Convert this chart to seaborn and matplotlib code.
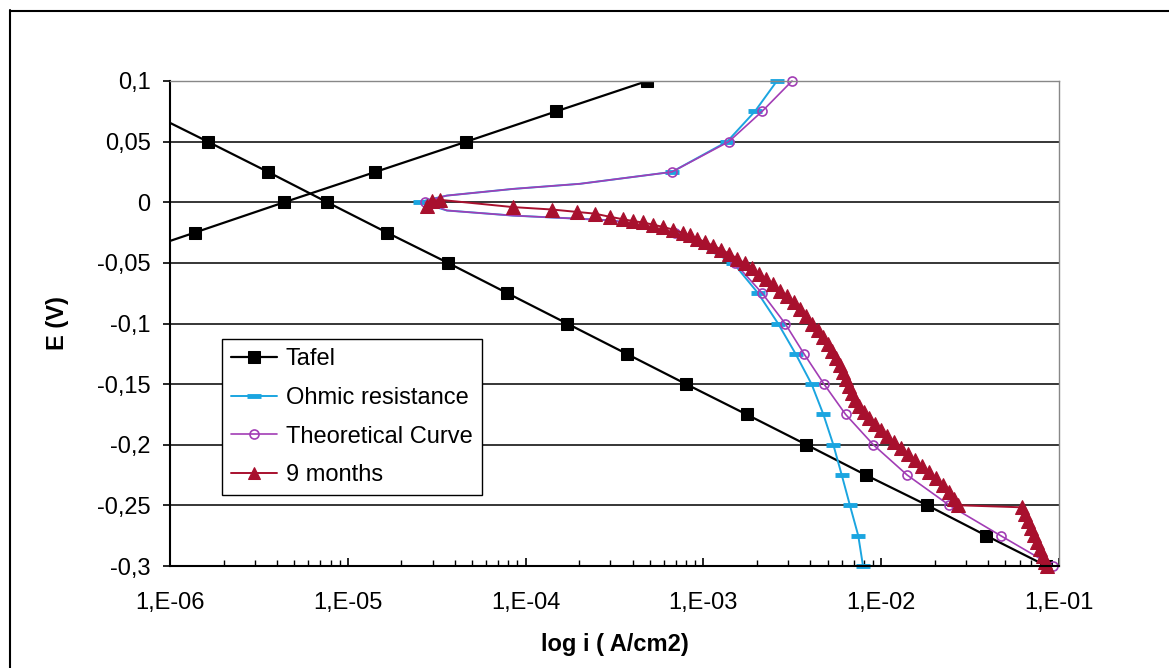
import numpy as np
import seaborn as sns
import matplotlib.pyplot as plt
from matplotlib.lines import Line2D
from matplotlib.ticker import FixedLocator, FuncFormatter, LogLocator, NullFormatter

# Tafel lines (cathodic and anodic branches, points outside the axes get clipped)
tafel_cath_E = [0.075, 0.05, 0.025, 0, -0.025, -0.05, -0.075, -0.1, -0.125, -0.15,
                -0.175, -0.2, -0.225, -0.25, -0.275, -0.3]
tafel_cath_i = [7.4e-7, 1.63e-6, 3.56e-6, 7.66e-6, 1.66e-5, 3.66e-5, 7.9e-5, 1.71e-4, 3.7e-4, 8.0e-4,
                1.75e-3, 3.8e-3, 8.2e-3, 1.82e-2, 3.9e-2, 8.5e-2]
tafel_anod_E = [-0.05, -0.025, 0, 0.025, 0.05, 0.075, 0.1, 0.125]
tafel_anod_i = [4.3e-7, 1.38e-6, 4.39e-6, 1.43e-5, 4.65e-5, 1.49e-4, 4.83e-4, 1.56e-3]

# ohmic resistance / theoretical curve (extra points near 0)
curve_E = [-0.3, -0.275, -0.25, -0.225, -0.2, -0.175, -0.15, -0.125, -0.1, -0.075, -0.05, -0.025,
           -0.015, -0.011, -0.0068, 0, 0.002, 0.0055, 0.011, 0.0152, 0.025, 0.05, 0.075, 0.1]
ohm_i = [7.9e-3, 7.43e-3, 6.67e-3, 6.0e-3, 5.38e-3, 4.73e-3, 4.06e-3, 3.3e-3, 2.63e-3, 2.03e-3, 1.47e-3, 6.9e-4,
         3.1e-4, 8.5e-5, 3.61e-5, 2.55e-5, 2.82e-5, 3.61e-5, 8.5e-5, 2.02e-4, 6.65e-4, 1.36e-3, 1.95e-3, 2.59e-3]
theo_i = [9.23e-2, 4.70e-2, 2.42e-2, 1.40e-2, 9.03e-3, 6.31e-3, 4.77e-3, 3.68e-3, 2.88e-3, 2.14e-3, 1.5e-3, 6.9e-4,
          3.1e-4, 8.5e-5, 3.61e-5, 2.72e-5, 2.9e-5, 3.61e-5, 8.5e-5, 2.02e-4, 6.65e-4, 1.39e-3, 2.14e-3, 3.15e-3]
curve_marked = [0, 1, 2, 3, 4, 5, 6, 7, 8, 9, 10, 11, 15, 20, 21, 22, 23]

# 9 months measurement
nine_E = [-0.0027, 0.0014, 0.002, -0.004, -0.006, -0.008, -0.0094, -0.012, -0.014, -0.0155, -0.0167,
          -0.0184, -0.0204, -0.0225, -0.0254, -0.0274, -0.0299, -0.0328, -0.0357, -0.039, -0.0423,
          -0.0464, -0.0505, -0.0546, -0.0588, -0.0633, -0.0678, -0.0728, -0.0777, -0.0826, -0.0884,
          -0.0942, -0.1, -0.1057, -0.1115, -0.1173, -0.123, -0.1288, -0.1346, -0.1403, -0.1461,
          -0.1519, -0.1576, -0.1634, -0.1683, -0.1733, -0.1782, -0.1832, -0.1881, -0.193, -0.198,
          -0.2029, -0.2079, -0.2128, -0.2178, -0.2227, -0.2277, -0.2334, -0.2392, -0.245, -0.2499,
          -0.2516, -0.2573, -0.263, -0.2688, -0.2746, -0.2804, -0.2862, -0.2919, -0.2969, -0.3]
nine_i = [2.79e-5, 2.98e-5, 3.30e-5, 8.49e-5, 1.41e-4, 1.95e-4, 2.45e-4, 2.98e-4, 3.53e-4, 4.02e-4, 4.57e-4,
          5.2e-4, 5.93e-4, 6.75e-4, 7.68e-4, 8.41e-4, 9.2e-4, 1.02e-3, 1.13e-3, 1.26e-3, 1.39e-3,
          1.55e-3, 1.71e-3, 1.88e-3, 2.05e-3, 2.25e-3, 2.46e-3, 2.70e-3, 2.95e-3, 3.23e-3, 3.49e-3,
          3.78e-3, 4.08e-3, 4.41e-3, 4.71e-3, 5.02e-3, 5.29e-3, 5.57e-3, 5.87e-3, 6.1e-3, 6.34e-3,
          6.59e-3, 6.85e-3, 7.12e-3, 7.5e-3, 8.0e-3, 8.53e-3, 9.22e-3, 9.97e-3, 1.08e-2, 1.18e-2,
          1.29e-2, 1.41e-2, 1.55e-2, 1.70e-2, 1.86e-2, 2.03e-2, 2.23e-2, 2.41e-2, 2.57e-2, 2.70e-2,
          6.19e-2, 6.44e-2, 6.7e-2, 6.97e-2, 7.24e-2, 7.52e-2, 7.82e-2, 8.13e-2, 8.34e-2, 8.55e-2]

y_ticks = [-0.3, -0.25, -0.2, -0.15, -0.1, -0.05, 0, 0.05, 0.1]

sns.set_theme(style='white', rc={'text.color': 'black', 'axes.labelcolor': 'black',
                                 'xtick.color': 'black', 'ytick.color': 'black'})
plt.rcParams['font.family'] = ['Liberation Sans', 'DejaVu Sans']
FS = 17

fig = plt.figure(figsize=(11.69, 6.68), dpi=100)
ax = fig.add_axes([170 / 1169, 1 - 566 / 668, 889 / 1169, 485 / 668])
ax.set_xscale('log')

ohm_col = '#1ba5e0'
theo_col = '#a23db5'
nine_col = '#a8102e'

sns.lineplot(x=tafel_cath_i, y=tafel_cath_E, sort=False, estimator=None, ax=ax, color='black',
             linewidth=1.6, marker='s', markersize=8, markeredgecolor='black', label='Tafel')
sns.lineplot(x=tafel_anod_i, y=tafel_anod_E, sort=False, estimator=None, ax=ax, color='black',
             linewidth=1.6, marker='s', markersize=8, markeredgecolor='black')
ohm_line = sns.lineplot(x=ohm_i, y=curve_E, sort=False, estimator=None, ax=ax, color=ohm_col,
                        linewidth=1.4, linestyle='-', marker='_', markersize=10, markeredgewidth=3.5,
                        markeredgecolor=ohm_col, markevery=curve_marked, clip_on=False,
                        label='Ohmic resistance').get_lines()[-1]
ohm_line.set_linestyle('-')
ohm_line.set_marker('_')
sns.lineplot(x=theo_i, y=curve_E, sort=False, estimator=None, ax=ax, color=theo_col,
             linewidth=1.2, marker='o', markersize=6.5, markerfacecolor='none', markeredgecolor=theo_col,
             markeredgewidth=1.2, markevery=curve_marked, clip_on=False, label='Theoretical Curve')
sns.lineplot(x=nine_i, y=nine_E, sort=False, estimator=None, ax=ax, color=nine_col,
             linewidth=1.4, marker='^', markersize=10.5, markeredgecolor=nine_col, clip_on=False,
             label='9 months')

ax.set_xlim(1e-6, 1e-1)
ax.set_ylim(-0.3, 0.1)

ax.yaxis.set_major_locator(FixedLocator(y_ticks))
ax.yaxis.set_major_formatter(FuncFormatter(
    lambda v, p: ('0' if abs(v) < 1e-9 else f"{round(v, 2):g}".replace('.', ','))))
ax.xaxis.set_major_locator(LogLocator(base=10, numticks=12))
ax.xaxis.set_minor_locator(LogLocator(base=10, subs=np.arange(2, 10), numticks=12))
ax.xaxis.set_minor_formatter(NullFormatter())
ax.xaxis.set_major_formatter(FuncFormatter(lambda v, p: f"1,E{int(round(np.log10(v))):03d}"))

ax.yaxis.grid(True, color='black', linewidth=1.1)
ax.xaxis.grid(False)
ax.set_axisbelow(True)

ax.tick_params(axis='y', which='major', direction='out', left=True, length=5, width=1.2, pad=9, labelsize=FS)
ax.tick_params(axis='x', which='major', direction='in', bottom=True, length=6, width=1.2, pad=19, labelsize=FS)
ax.tick_params(axis='x', which='minor', direction='in', bottom=True, length=4, width=1)

for side in ['left', 'bottom']:
    ax.spines[side].set_color('black')
    ax.spines[side].set_linewidth(1.5)
for side in ['top', 'right']:
    ax.spines[side].set_color('#888888')
    ax.spines[side].set_linewidth(1.0)

ax.set_xlabel('log i ( A/cm2)', fontsize=FS, fontweight='bold')
ax.set_ylabel('E (V)', fontsize=FS, fontweight='bold')
ax.xaxis.set_label_coords(0.5, -0.138)
ax.yaxis.set_label_coords(-0.1136, 0.5)

leg = ax.legend(loc='upper left', bbox_to_anchor=(0.0585, 0.468), frameon=True, fancybox=False,
                edgecolor='black', framealpha=1, fontsize=FS, handlelength=1.95, handletextpad=0.35,
                labelspacing=0.7, borderpad=0.4, borderaxespad=0)
leg.get_frame().set_linewidth(1.0)
for h in leg.legend_handles:
    if h.get_marker() == '^':
        h.set_markersize(8)

# outer chart frame
fig.add_artist(Line2D([10 / 1169, 10 / 1169], [0, 1 - 10 / 668], transform=fig.transFigure,
                      color='black', linewidth=1.5))
fig.add_artist(Line2D([10 / 1169, 1], [1 - 11 / 668, 1 - 11 / 668], transform=fig.transFigure,
                      color='black', linewidth=1.5))

fig.savefig('out.png', dpi=100)
